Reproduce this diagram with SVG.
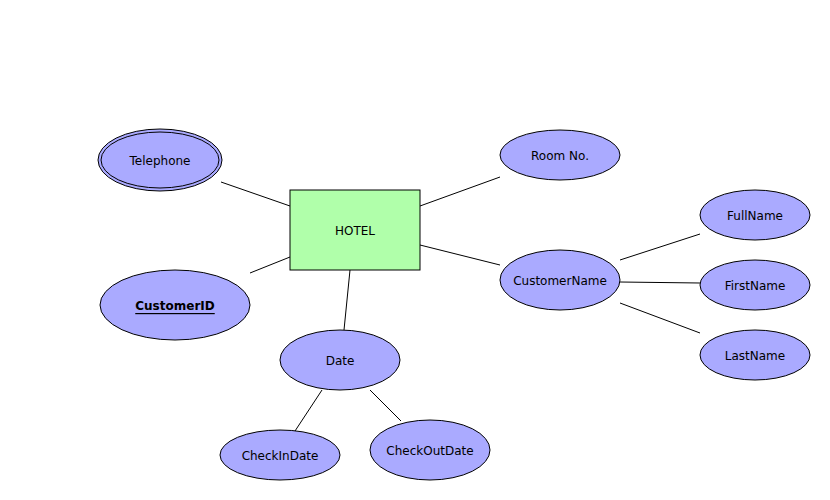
<svg xmlns="http://www.w3.org/2000/svg" width="830" height="500" viewBox="0 0 830 500">
<style>
.attr{fill:#aaaaff;stroke:#000;stroke-width:1}
.ent{fill:#b0ffaa;stroke:#000;stroke-width:1}
text{font-family:"DejaVu Sans",Verdana,sans-serif;font-size:12px;fill:#000;text-anchor:middle;dominant-baseline:central}
.key{font-weight:bold;text-decoration:underline}
#connectors line{stroke:#000;stroke-width:1}
</style>
<rect width="830" height="500" fill="#fff"/>
<g id="connectors">
<line x1="221" y1="182" x2="290" y2="206"/>
<line x1="250" y1="273" x2="290" y2="257"/>
<line x1="420" y1="206" x2="500" y2="177"/>
<line x1="420" y1="245" x2="500" y2="265"/>
<line x1="620" y1="260" x2="700" y2="234"/>
<line x1="620" y1="282" x2="700" y2="283"/>
<line x1="620" y1="303" x2="700" y2="333"/>
<line x1="350" y1="270" x2="344" y2="330"/>
<line x1="322" y1="390" x2="295" y2="431"/>
<line x1="370" y1="390" x2="401" y2="421"/>
</g>
<g id="hotel"><rect class="ent" x="290" y="190" width="130" height="80"/><text x="355" y="231">HOTEL</text></g>
<g id="telephone"><ellipse class="attr" cx="160" cy="160" rx="62" ry="31"/><ellipse fill="none" stroke="#000" cx="160" cy="160" rx="59" ry="28"/><text x="160" y="161">Telephone</text></g>
<g id="customerid"><ellipse class="attr" cx="175" cy="305" rx="75" ry="35"/><text class="key" x="175" y="306">CustomerID</text></g>
<g id="roomno"><ellipse class="attr" cx="560" cy="155" rx="60" ry="25"/><text x="560" y="156">Room No.</text></g>
<g id="customername"><ellipse class="attr" cx="560" cy="280" rx="60" ry="30"/><text x="560" y="281">CustomerName</text></g>
<g id="fullname"><ellipse class="attr" cx="755" cy="215" rx="55" ry="25"/><text x="755" y="216">FullName</text></g>
<g id="firstname"><ellipse class="attr" cx="755" cy="285" rx="55" ry="25"/><text x="755" y="286">FirstName</text></g>
<g id="lastname"><ellipse class="attr" cx="755" cy="355" rx="55" ry="25"/><text x="755" y="356">LastName</text></g>
<g id="date"><ellipse class="attr" cx="340" cy="360" rx="60" ry="30"/><text x="340" y="361">Date</text></g>
<g id="checkindate"><ellipse class="attr" cx="280" cy="455" rx="60" ry="25"/><text x="280" y="456">CheckInDate</text></g>
<g id="checkoutdate"><ellipse class="attr" cx="430" cy="450" rx="60" ry="30"/><text x="430" y="451">CheckOutDate</text></g>
</svg>
